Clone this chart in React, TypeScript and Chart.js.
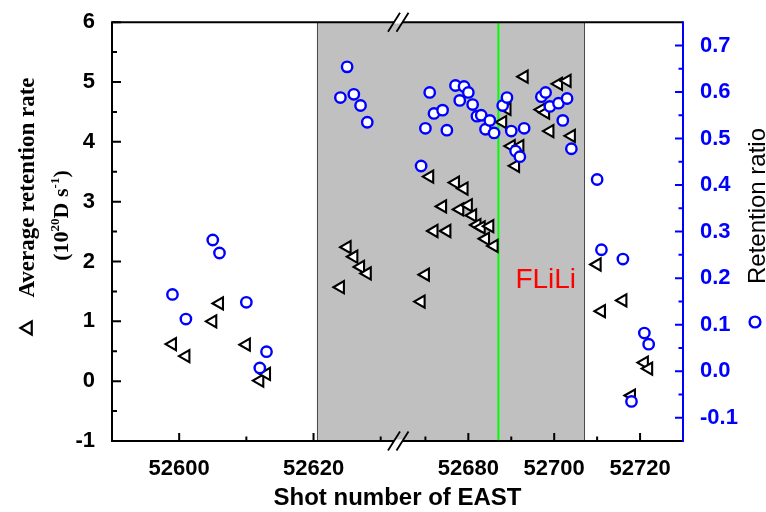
import React, { useEffect, useRef } from 'react';
import { Chart, registerables } from 'chart.js';

Chart.register(...registerables);

// EAST shot numbers measured in this campaign
const shots = [
  52599, 52601, 52605, 52606, 52610, 52612, 52613,
  52624, 52625, 52626, 52627, 52628,
  52669, 52670, 52671, 52672, 52674, 52675, 52677, 52678, 52679, 52680,
  52681, 52682, 52683, 52684, 52685, 52686, 52688, 52689, 52690, 52691,
  52692, 52693, 52697, 52698, 52699, 52701, 52702, 52703, 52704,
  52710, 52711, 52716, 52718, 52721, 52722,
];

// Average retention rate (10^20 D s^-1), left axis
const avgRetentionRate: (number | null)[] = [
  0.62, 0.42, 1.0, 1.3, 0.61, 0.01, 0.12,
  1.57, 2.24, 2.08, 1.91, 1.8,
  1.33, 1.78, 3.42, 2.51, 2.92, 2.51, 3.32, 2.87, 3.22, 2.94,
  2.77, 2.61, 2.57, 2.38, 2.59, 2.26, 4.33, 4.55, 3.93, 3.6,
  3.93, 5.09, 4.54, 4.49, 4.18, 4.97, null, 5.02, 4.1,
  1.95, 1.17, 1.35, -0.24, 0.31, 0.21,
];

// Retention ratio, right axis
const retentionRatio: (number | null)[] = [
  0.165, 0.112, 0.282, 0.254, 0.148, 0.007, 0.042,
  0.588, 0.654, 0.595, 0.571, 0.535,
  0.441, 0.522, 0.599, 0.554, 0.561, 0.518, 0.614, 0.582, 0.612, 0.599,
  0.573, 0.548, 0.55, 0.52, 0.539, 0.512, 0.571, 0.588, 0.516, 0.473,
  0.461, 0.522, 0.59, 0.599, 0.569, 0.576, 0.539, 0.586, 0.478,
  0.412, 0.261, 0.241, -0.065, 0.082, 0.058,
];

const xMajorTicks = [52600, 52620, 52680, 52700, 52720];
const xMinorTicks = [52610, 52630, 52670, 52690, 52710];
const rateTicks = [-1, 0, 1, 2, 3, 4, 5, 6];
const rateMinorTicks = [-0.5, 0.5, 1.5, 2.5, 3.5, 4.5, 5.5];
const ratioTicks = [-0.1, 0, 0.1, 0.2, 0.3, 0.4, 0.5, 0.6, 0.7];
const ratioMinorTicks = [-0.05, 0.05, 0.15, 0.25, 0.35, 0.45, 0.55, 0.65];

// Broken x axis: two shot ranges share the axis, each taking one half
const lowerSegment = [52590, 52632.5];
const upperSegment = [52663.5, 52730];
const shadedShots = [52620.5, 52707];
const fliliShot = 52687;

const SANS = '"Liberation Sans", Arial, sans-serif';
const SERIF = '"Liberation Serif", "Times New Roman", serif';
const BLUE = '#0000ff';
const TRI_RADIUS = 7;

function toAxis(shot: number): number {
  if (shot <= lowerSegment[1]) {
    return (shot - lowerSegment[0]) / (lowerSegment[1] - lowerSegment[0]);
  }
  return 1 + (shot - upperSegment[0]) / (upperSegment[1] - upperSegment[0]);
}

export default function App() {
  const ref = useRef<HTMLCanvasElement>(null);

  useEffect(() => {
    const canvas = ref.current;
    if (!canvas) return;

    const rateData = shots
      .map((s, i) => ({ x: toAxis(s), y: avgRetentionRate[i] }))
      .filter((p) => p.y !== null) as { x: number; y: number }[];
    const ratioData = shots
      .map((s, i) => ({ x: toAxis(s), y: retentionRatio[i] }))
      .filter((p) => p.y !== null) as { x: number; y: number }[];

    const decor = {
      id: 'decor',
      beforeDraw(chart: any) {
        const { ctx, chartArea: a, scales } = chart;
        const xs = scales.x;
        const x0 = xs.getPixelForValue(toAxis(shadedShots[0]));
        const x1 = xs.getPixelForValue(toAxis(shadedShots[1]));
        ctx.save();
        ctx.fillStyle = '#c0c0c0';
        ctx.fillRect(x0, a.top, x1 - x0, a.bottom - a.top);
        ctx.strokeStyle = '#4a4a4a';
        ctx.lineWidth = 1;
        ctx.beginPath();
        ctx.moveTo(Math.round(x0) + 0.5, a.top);
        ctx.lineTo(Math.round(x0) + 0.5, a.bottom);
        ctx.moveTo(Math.round(x1) + 0.5, a.top);
        ctx.lineTo(Math.round(x1) + 0.5, a.bottom);
        ctx.stroke();

        const gx = xs.getPixelForValue(toAxis(fliliShot));
        ctx.strokeStyle = '#00ff00';
        ctx.lineWidth = 2;
        ctx.beginPath();
        ctx.moveTo(gx, a.top);
        ctx.lineTo(gx, a.bottom);
        ctx.stroke();

        ctx.fillStyle = '#ff0000';
        ctx.font = `28px ${SANS}`;
        ctx.textAlign = 'left';
        ctx.textBaseline = 'alphabetic';
        ctx.fillText('FLiLi', gx + 17, scales.y.getPixelForValue(1.55));
        ctx.restore();
      },
      afterDraw(chart: any) {
        const { ctx, chartArea: a, scales } = chart;
        const xs = scales.x;
        const ys = scales.y;
        const y2 = scales.y2;
        ctx.save();
        ctx.lineCap = 'butt';

        // Frame lines
        ctx.lineWidth = 2;
        ctx.strokeStyle = '#000';
        ctx.beginPath();
        ctx.moveTo(a.left, a.top);
        ctx.lineTo(a.right, a.top);
        ctx.moveTo(a.left, a.top - 1);
        ctx.lineTo(a.left, a.bottom + 1);
        ctx.moveTo(a.left - 1, a.bottom);
        ctx.lineTo(a.right, a.bottom);
        ctx.stroke();
        ctx.strokeStyle = BLUE;
        ctx.beginPath();
        ctx.moveTo(a.right, a.top - 1);
        ctx.lineTo(a.right, a.bottom + 1);
        ctx.stroke();

        // Inward tick marks
        ctx.strokeStyle = '#000';
        ctx.beginPath();
        xMajorTicks.forEach((v) => {
          const px = xs.getPixelForValue(toAxis(v));
          ctx.moveTo(px, a.bottom);
          ctx.lineTo(px, a.bottom - 8);
        });
        xMinorTicks.forEach((v) => {
          const px = xs.getPixelForValue(toAxis(v));
          ctx.moveTo(px, a.bottom);
          ctx.lineTo(px, a.bottom - 4.5);
        });
        rateTicks.forEach((v) => {
          const py = ys.getPixelForValue(v);
          ctx.moveTo(a.left, py);
          ctx.lineTo(a.left + 9, py);
        });
        rateMinorTicks.forEach((v) => {
          const py = ys.getPixelForValue(v);
          ctx.moveTo(a.left, py);
          ctx.lineTo(a.left + 5, py);
        });
        ctx.stroke();
        ctx.strokeStyle = BLUE;
        ctx.beginPath();
        ratioTicks.forEach((v) => {
          const py = y2.getPixelForValue(v);
          ctx.moveTo(a.right, py);
          ctx.lineTo(a.right - 8, py);
        });
        ratioMinorTicks.forEach((v) => {
          const py = y2.getPixelForValue(v);
          ctx.moveTo(a.right, py);
          ctx.lineTo(a.right - 4.5, py);
        });
        ctx.stroke();

        // Axis break marks
        const bx = xs.getPixelForValue(1);
        [a.top, a.bottom].forEach((ay: number) => {
          const k = 12 / 19;
          const xa = bx - 3.5;
          const xb = bx + 5;
          ctx.fillStyle = '#ffffff';
          ctx.beginPath();
          ctx.moveTo(xa + 1.5 * k, ay - 1.5);
          ctx.lineTo(xb + 1.5 * k, ay - 1.5);
          ctx.lineTo(xb - 1.5 * k, ay + 1.5);
          ctx.lineTo(xa - 1.5 * k, ay + 1.5);
          ctx.closePath();
          ctx.fill();
          ctx.strokeStyle = '#000';
          ctx.lineWidth = 1.8;
          ctx.beginPath();
          [xa, xb].forEach((mx) => {
            ctx.moveTo(mx - 9.5 * k, ay + 9.5);
            ctx.lineTo(mx + 9.5 * k, ay - 9.5);
          });
          ctx.stroke();
        });

        // X title
        ctx.fillStyle = '#000';
        ctx.font = `bold 24px ${SANS}`;
        ctx.textAlign = 'center';
        ctx.textBaseline = 'alphabetic';
        ctx.fillText('Shot number of EAST', (a.left + a.right) / 2, 505);

        // Left title (two lines, rotated)
        ctx.save();
        ctx.translate(34, 187.5);
        ctx.rotate(-Math.PI / 2);
        ctx.font = `bold 23px ${SERIF}`;
        ctx.textAlign = 'center';
        ctx.fillText('Average retention rate', 0, 0);
        ctx.restore();

        ctx.save();
        ctx.translate(68, 215.5);
        ctx.rotate(-Math.PI / 2);
        const parts: [string, boolean][] = [
          ['(10', false],
          ['20', true],
          ['D s', false],
          ['-1', true],
          [')', false],
        ];
        const mainFont = `bold 22px ${SERIF}`;
        const supFont = `bold 13px ${SERIF}`;
        let total = 0;
        parts.forEach(([t, sup]) => {
          ctx.font = sup ? supFont : mainFont;
          total += ctx.measureText(t).width;
        });
        let cx = -total / 2;
        ctx.textAlign = 'left';
        parts.forEach(([t, sup]) => {
          ctx.font = sup ? supFont : mainFont;
          ctx.fillText(t, cx, sup ? -9 : 0);
          cx += ctx.measureText(t).width;
        });
        ctx.restore();

        // Series symbol beside the left title
        const tr = TRI_RADIUS + 0.5;
        const tx = 28;
        const ty = 328;
        ctx.beginPath();
        ctx.moveTo(tx - tr, ty);
        ctx.lineTo(tx + 0.5 * tr, ty - 0.866 * tr);
        ctx.lineTo(tx + 0.5 * tr, ty + 0.866 * tr);
        ctx.closePath();
        ctx.fillStyle = '#fff';
        ctx.fill();
        ctx.lineWidth = 2.2;
        ctx.strokeStyle = '#000';
        ctx.stroke();

        // Right title
        ctx.save();
        ctx.translate(765, 206);
        ctx.rotate(-Math.PI / 2);
        ctx.font = `24px ${SANS}`;
        ctx.textAlign = 'center';
        ctx.fillStyle = '#000';
        ctx.fillText('Retention ratio', 0, 0);
        ctx.restore();

        ctx.beginPath();
        ctx.arc(755, 322, 5.4, 0, Math.PI * 2);
        ctx.fillStyle = '#fff';
        ctx.fill();
        ctx.lineWidth = 2.4;
        ctx.strokeStyle = BLUE;
        ctx.stroke();

        ctx.restore();
      },
    };

    const tickFont = { family: SANS, size: 22, weight: 'bold' as const };

    const chart = new Chart(canvas, {
      type: 'scatter',
      data: {
        datasets: [
          {
            label: 'Retention ratio',
            data: ratioData,
            yAxisID: 'y2',
            pointStyle: 'circle',
            pointRadius: 5.2,
            borderWidth: 2.4,
            borderColor: BLUE,
            backgroundColor: '#ffffff',
            order: 0,
          },
          {
            label: 'Average retention rate',
            data: rateData,
            yAxisID: 'y',
            pointStyle: 'triangle',
            rotation: -90,
            pointRadius: TRI_RADIUS,
            borderWidth: 2.1,
            borderColor: '#000',
            backgroundColor: '#fff',
            order: 1,
          },
        ],
      },
      options: {
        animation: false,
        responsive: true,
        maintainAspectRatio: false,
        events: [],
        layout: { padding: { top: 18, left: 0, right: 0, bottom: 0 } },
        plugins: { legend: { display: false }, tooltip: { enabled: false } },
        scales: {
          x: {
            type: 'linear',
            position: 'bottom',
            min: 0,
            max: 2,
            grid: { display: false },
            border: { display: false },
            afterBuildTicks: (s: any) => {
              s.ticks = xMajorTicks.map((v) => ({ value: toAxis(v) }));
            },
            afterFit: (s: any) => {
              s.height = 71;
            },
            ticks: {
              autoSkip: false,
              maxRotation: 0,
              padding: 7,
              color: '#000',
              font: tickFont,
              callback: (_v: any, i: number) => String(xMajorTicks[i]),
            },
          },
          y: {
            type: 'linear',
            position: 'left',
            min: -1,
            max: 6,
            grid: { display: false },
            border: { display: false },
            afterBuildTicks: (s: any) => {
              s.ticks = rateTicks.map((v) => ({ value: v }));
            },
            afterFit: (s: any) => {
              s.width = 112;
            },
            ticks: {
              padding: 9,
              color: '#000',
              font: tickFont,
              callback: (v: any) => String(v),
            },
          },
          y2: {
            type: 'linear',
            position: 'right',
            min: -0.15,
            max: 0.75,
            grid: { display: false },
            border: { display: false },
            afterBuildTicks: (s: any) => {
              s.ticks = ratioTicks.map((v) => ({ value: v }));
            },
            afterFit: (s: any) => {
              s.width = 83;
            },
            ticks: {
              padding: 9,
              color: BLUE,
              font: tickFont,
              callback: (v: any) => Number(v).toFixed(1),
            },
          },
        },
      },
      plugins: [decor],
    });

    return () => chart.destroy();
  }, []);

  return (
    <div style={{ position: 'fixed', left: 0, top: 0, width: 766, height: 512, background: '#fff' }}>
      <canvas ref={ref} />
    </div>
  );
}
